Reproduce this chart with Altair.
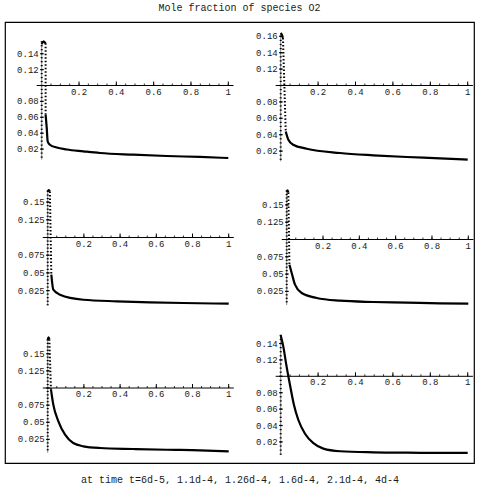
import altair as alt
import numpy as np
import pandas as pd

TITLE = "Mole fraction of species O2"
CAPTION = "at time t=6d-5, 1.1d-4, 1.26d-4, 1.6d-4, 2.1d-4, 4d-4"
FONT = "Liberation Mono"

# ---------------- data ----------------
# panel 1  (t = 6d-5)
P1_TOP_X = [0.0, 0.010, 0.021]
P1_TOP_Y = [0.152, 0.1556, 0.153]
P1_DROP_X = [0.021, 0.021]
P1_DROP_Y = [0.153, 0.063]
P1_TAIL_X = [0.021, 0.027, 0.032, 0.044, 0.08, 0.134, 0.223, 0.312, 0.49, 0.67, 0.848, 1.0]
P1_TAIL_Y = [0.063, 0.0465, 0.0298, 0.0255, 0.022, 0.0195, 0.0172, 0.0151, 0.013, 0.0113, 0.0101, 0.0088]

# panel 2  (t = 1.1d-4)
P2_TOP_X = [0.0, 0.006, 0.012]
P2_TOP_Y = [0.164, 0.162, 0.158]
P2_DROP_X = [0.012, 0.027]
P2_DROP_Y = [0.158, 0.044]
P2_TAIL_X = [0.027, 0.041, 0.067, 0.139, 0.317, 0.495, 0.674, 0.852, 1.0]
P2_TAIL_Y = [0.044, 0.0339, 0.0278, 0.0229, 0.0177, 0.0149, 0.0128, 0.0112, 0.0095]

# panel 3  (t = 1.26d-4)
P3_TOP_X = [0.0, 0.006, 0.012]
P3_TOP_Y = [0.165, 0.167, 0.165]
P3_DROP_X = [0.012, 0.02]
P3_DROP_Y = [0.165, 0.0475]
P3_TAIL_X = [0.02, 0.031, 0.068, 0.197, 0.381, 0.565, 0.749, 1.0]
P3_TAIL_Y = [0.0475, 0.0263, 0.0192, 0.0121, 0.0099, 0.0085, 0.0075, 0.0065]

# panel 4  (t = 1.6d-4)
P4_TOP_X = [0.0, 0.005, 0.009]
P4_TOP_Y = [0.169, 0.171, 0.168]
P4_DROP_X = [0.009, 0.015]
P4_DROP_Y = [0.168, 0.0636]
P4_TAIL_X = [0.015, 0.0275, 0.0457, 0.0826, 0.165, 0.293, 0.477, 0.661, 0.844, 1.0]
P4_TAIL_Y = [0.0636, 0.0516, 0.0347, 0.0227, 0.0155, 0.0116, 0.0097, 0.0087, 0.0078, 0.0072]

# panel 5  (t = 2.1d-4)
P5_TOP_X = [0.0, 0.005, 0.009]
P5_TOP_Y = [0.170, 0.174, 0.171]
P5_DROP_X = [0.009, 0.018]
P5_DROP_Y = [0.171, 0.098]
P5_TAIL_X = [0.018, 0.031, 0.059, 0.096, 0.141, 0.197, 0.289, 0.473, 0.657, 0.841, 1.0]
P5_TAIL_Y = [0.098, 0.0757, 0.0515, 0.032, 0.0198, 0.015, 0.0125, 0.0111, 0.010, 0.0092, 0.0077]

# panel 6  (t = 4d-4)
P6_TAIL_X = [0.0, 0.015, 0.03, 0.05, 0.07, 0.094, 0.13, 0.175, 0.228, 0.318, 0.496, 0.675, 0.853, 1.0]
P6_TAIL_Y = [0.150, 0.135, 0.114, 0.089, 0.066, 0.047, 0.030, 0.0185, 0.0118, 0.0086, 0.0073, 0.0068, 0.0066, 0.0065]

# tick labels
X_LABELS = [0.2, 0.4, 0.6, 0.8, 1.0]
X_LABEL_TEXT = ["0.2", "0.4", "0.6", "0.8", "1"]
Y_LABELS_A = [0.02, 0.04, 0.06, 0.08, 0.12, 0.14]
Y_LABELS_A_TEXT = ["0.02", "0.04", "0.06", "0.08", "0.12", "0.14"]
Y_LABELS_B = [0.02, 0.04, 0.06, 0.08, 0.12, 0.14, 0.16]
Y_LABELS_B_TEXT = ["0.02", "0.04", "0.06", "0.08", "0.12", "0.14", "0.16"]
Y_LABELS_C = [0.025, 0.05, 0.075, 0.125, 0.15]
Y_LABELS_C_TEXT = ["0.025", "0.05", "0.075", "0.125", "0.15"]

# ---------------- layout (pixels) ----------------
W, H = 469, 441          # whole framed area
OX, OY = 5, 24           # frame origin in the page
# panel: (page x of x=0, page x of x=1, page y of y=0.1, px per unit of y)
GEOM = {
    1: (41.7, 228.3, 87.5, 795.0),
    2: (280.7, 467.7, 87.5, 820.0),
    3: (47.7, 228.7, 239.5, 708.0),
    4: (286.7, 468.3, 241.5, 692.0),
    5: (47.7, 228.7, 390.0, 686.0),
    6: (280.7, 467.7, 378.3, 820.0),
}
TEXT_COLOR = "#1a1a1a"


def ticks(lo, hi, step):
    n0 = int(np.ceil(lo / step - 1e-9))
    n1 = int(np.floor(hi / step + 1e-9))
    return [round(k * step, 6) for k in range(n0, n1 + 1)]


def panel(idx, top_x, top_y, drop_x, drop_y, tail_x, tail_y,
          ylab, ylab_text, ymajor_step, caption=False):
    x0, x1, p01, k = GEOM[idx]
    X0, X1, P = x0 - OX, x1 - OX, p01 - OY
    xdom = [-X0 / (X1 - X0), 1 + (W - X1) / (X1 - X0)]
    ydom = [0.1 - (H - P) / k, 0.1 + P / k]
    xs = alt.Scale(domain=xdom, nice=False, zero=False)
    ys = alt.Scale(domain=ydom, nice=False, zero=False)
    if caption:
        xaxis = alt.Axis(title=CAPTION, labels=False, ticks=False, domain=False,
                         grid=False, orient="bottom", titleFont=FONT,
                         titleFontSize=10, titleFontWeight="normal",
                         titleColor=TEXT_COLOR, titlePadding=11)
    else:
        xaxis = None

    def X(f):
        return alt.X(f, type="quantitative", scale=xs, axis=xaxis)

    def Y(f):
        return alt.Y(f, type="quantitative", scale=ys, axis=None)

    layers = []
    all_y = list(top_y) + list(drop_y) + list(tail_y)
    ax_lo, ax_hi = min(all_y) - 0.002, max(all_y)

    # axes
    xrule = pd.DataFrame({"x": [-0.027], "x2": [1.028], "y": [0.1]})
    layers.append(alt.Chart(xrule).mark_rule(color="black", strokeWidth=1).encode(
        x=X("x"), x2="x2", y=Y("y")))
    yrule = pd.DataFrame({"x": [0.0], "y": [ax_lo], "y2": [ax_hi]})
    layers.append(alt.Chart(yrule).mark_rule(color="#555555", strokeWidth=0.7).encode(
        x=X("x"), y=Y("y"), y2="y2"))

    xmaj = pd.DataFrame({"x": X_LABELS, "y": 0.1})
    xmin_ = pd.DataFrame({"x": ticks(0.05, 1.0, 0.05), "y": 0.1})
    layers.append(alt.Chart(xmaj).mark_rule(color="black", strokeWidth=1, y2Offset=-4).encode(
        x=X("x"), y=Y("y"), y2="y"))
    layers.append(alt.Chart(xmin_).mark_rule(color="black", strokeWidth=0.8, y2Offset=-2).encode(
        x=X("x"), y=Y("y"), y2="y"))

    ymaj = pd.DataFrame({"x": 0.0, "y": ticks(ax_lo, ax_hi, ymajor_step)})
    ymin_ = pd.DataFrame({"x": 0.0, "y": ticks(ax_lo, ax_hi, 0.005)})
    layers.append(alt.Chart(ymaj).mark_rule(color="black", strokeWidth=1.2,
                                            xOffset=-1.5, x2Offset=2).encode(
        x=X("x"), x2="x", y=Y("y")))
    layers.append(alt.Chart(ymin_).mark_rule(color="black", strokeWidth=1.2,
                                             xOffset=-1, x2Offset=1).encode(
        x=X("x"), x2="x", y=Y("y")))

    xl = pd.DataFrame({"x": X_LABELS, "y": 0.1, "t": X_LABEL_TEXT})
    layers.append(alt.Chart(xl).mark_text(font=FONT, fontSize=9, baseline="top", dy=2,
                                          align="center", color=TEXT_COLOR).encode(
        x=X("x"), y=Y("y"), text="t:N"))
    yl = pd.DataFrame({"x": 0.0, "y": ylab, "t": ylab_text})
    layers.append(alt.Chart(yl).mark_text(font=FONT, fontSize=9, baseline="middle", dx=-3,
                                          align="right", color=TEXT_COLOR).encode(
        x=X("x"), y=Y("y"), text="t:N"))

    # curve
    parts = []
    if top_x:
        parts.append(pd.DataFrame({"x": top_x, "y": top_y, "seg": "top"}))
    parts.append(pd.DataFrame({"x": tail_x, "y": tail_y, "seg": "tail"}))
    curve = pd.concat(parts, ignore_index=True)
    layers.append(alt.Chart(curve).mark_line(color="black", strokeWidth=2.2,
                                             interpolate="monotone").encode(
        x=X("x"), y=Y("y"), detail="seg:N"))
    if drop_x:
        dd = pd.DataFrame({"x": drop_x, "y": drop_y})
        layers.append(alt.Chart(dd).mark_line(color="black", strokeWidth=2.0,
                                              strokeDash=[1.5, 2.0]).encode(
            x=X("x"), y=Y("y")))
    return alt.layer(*layers)


panels = [
    panel(1, P1_TOP_X, P1_TOP_Y, P1_DROP_X, P1_DROP_Y, P1_TAIL_X, P1_TAIL_Y,
          Y_LABELS_A, Y_LABELS_A_TEXT, 0.02, caption=True),
    panel(2, P2_TOP_X, P2_TOP_Y, P2_DROP_X, P2_DROP_Y, P2_TAIL_X, P2_TAIL_Y,
          Y_LABELS_B, Y_LABELS_B_TEXT, 0.02),
    panel(3, P3_TOP_X, P3_TOP_Y, P3_DROP_X, P3_DROP_Y, P3_TAIL_X, P3_TAIL_Y,
          Y_LABELS_C, Y_LABELS_C_TEXT, 0.025),
    panel(4, P4_TOP_X, P4_TOP_Y, P4_DROP_X, P4_DROP_Y, P4_TAIL_X, P4_TAIL_Y,
          Y_LABELS_C, Y_LABELS_C_TEXT, 0.025),
    panel(5, P5_TOP_X, P5_TOP_Y, P5_DROP_X, P5_DROP_Y, P5_TAIL_X, P5_TAIL_Y,
          Y_LABELS_C, Y_LABELS_C_TEXT, 0.025),
    panel(6, [], [], [], [], P6_TAIL_X, P6_TAIL_Y,
          Y_LABELS_A, Y_LABELS_A_TEXT, 0.02),
]

chart = alt.layer(*panels).resolve_scale(
    x="independent", y="independent"
).properties(
    width=W, height=H,
    title=alt.Title(TITLE, font=FONT, fontSize=10, fontWeight="normal",
                    color=TEXT_COLOR, anchor="middle", offset=9),
    padding={"left": 5, "right": 6, "top": 3, "bottom": 0},
    background="white",
).configure_view(stroke="black", strokeWidth=1.2)

chart.save("out.html", embed_options={"renderer": "svg", "actions": False})
